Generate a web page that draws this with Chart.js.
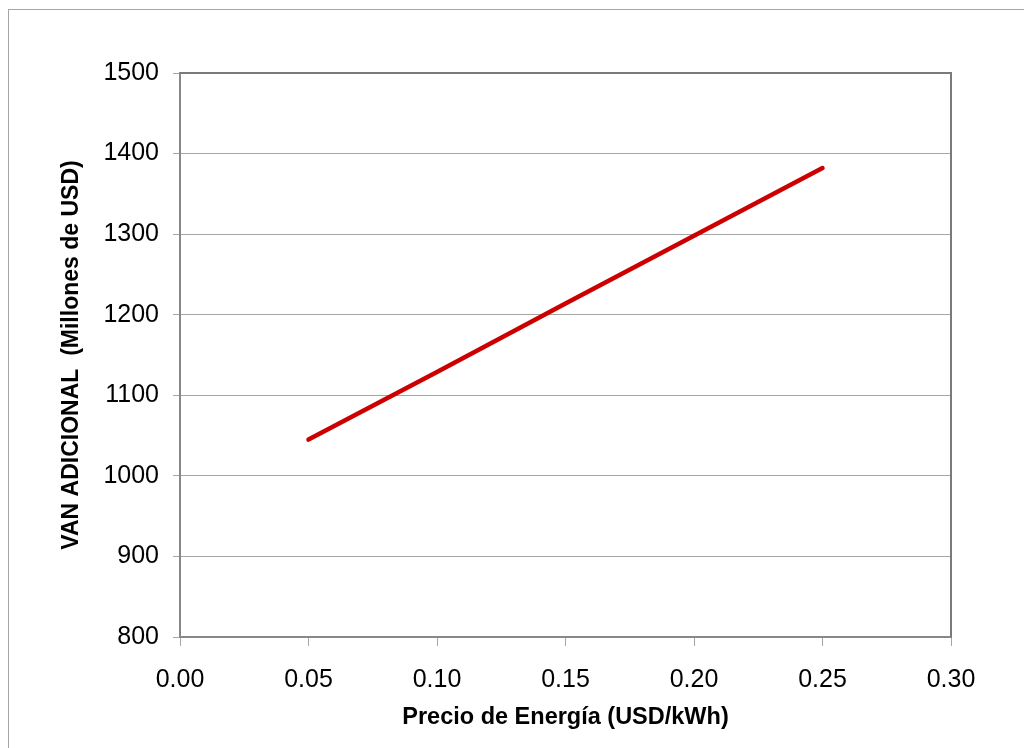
<!DOCTYPE html>
<html>
<head>
<meta charset="utf-8">
<script src="https://cdn.jsdelivr.net/npm/chart.js@4"></script>
<style>
  html, body { margin: 0; padding: 0; background: #ffffff; }
  #wrap { position: relative; width: 1024px; height: 748px; overflow: hidden; }
  #frame { position: absolute; left: 8px; top: 9px; width: 1100px; height: 800px;
           border-left: 1px solid #a6a6a6; border-top: 1px solid #a6a6a6; }
  canvas { position: absolute; left: 0; top: 0; }
</style>
</head>
<body>
<div id="wrap">
  <div id="frame"></div>
  <canvas id="c" width="1024" height="748"></canvas>
</div>
<script>
// Data
const priceValues = [0.05, 0.10, 0.15, 0.20, 0.25];       // USD/kWh
const vanValues   = [1045, 1129, 1214, 1298, 1382];        // Millones de USD
const xTitle = 'Precio de Energía (USD/kWh)';
const yTitle = 'VAN ADICIONAL  (Millones de USD)';
const xMin = 0, xMax = 0.30, xStep = 0.05;
const yMin = 800, yMax = 1500, yStep = 100;

const FONT = '"Liberation Sans", Arial, sans-serif';

const points = priceValues.map((x, i) => ({ x: x, y: vanValues[i] }));

const frameBorder = {
  id: 'frameBorder',
  afterDraw(chart) {
    const { ctx, chartArea: a } = chart;
    ctx.save();
    ctx.strokeStyle = '#7a7a7a';
    ctx.lineWidth = 2;
    ctx.beginPath();
    ctx.moveTo(a.left, a.top);
    ctx.lineTo(a.right, a.top);
    ctx.lineTo(a.right, a.bottom);
    ctx.stroke();
    ctx.restore();
  }
};

new Chart(document.getElementById('c'), {
  type: 'scatter',
  data: {
    datasets: [{
      data: points,
      showLine: true,
      borderColor: '#cc0000',
      borderWidth: 4.5,
      borderCapStyle: 'round',
      borderJoinStyle: 'round',
      pointRadius: 0,
      pointHoverRadius: 0,
      tension: 0
    }]
  },
  options: {
    responsive: false,
    animation: false,
    events: [],
    layout: { padding: { left: 0, top: 73, right: 73, bottom: 0 } },
    plugins: { legend: { display: false }, tooltip: { enabled: false } },
    scales: {
      x: {
        type: 'linear',
        min: xMin, max: xMax,
        afterFit(scale) { scale.height = 748 - 637; },
        ticks: {
          stepSize: xStep,
          callback: v => Number(v).toFixed(2),
          font: { family: FONT, size: 25 },
          color: '#000000',
          padding: 19,
          maxRotation: 0
        },
        grid: {
          drawOnChartArea: false,
          drawTicks: true,
          tickLength: 9,
          color: '#a6a6a6',
          lineWidth: 1
        },
        border: { color: '#888888', width: 2 },
        title: {
          display: true,
          text: xTitle,
          font: { family: FONT, size: 23.5, weight: 'bold' },
          color: '#000000',
          padding: { top: 0, bottom: 16 }
        }
      },
      y: {
        type: 'linear',
        min: yMin, max: yMax,
        afterFit(scale) { scale.width = 180; },
        ticks: {
          stepSize: yStep,
          callback: v => String(Math.round(v)),
          font: { family: FONT, size: 25 },
          color: '#000000',
          padding: 14
        },
        grid: {
          drawOnChartArea: true,
          drawTicks: true,
          tickLength: 7,
          color: '#a6a6a6',
          lineWidth: 1
        },
        border: { color: '#888888', width: 2 },
        title: {
          display: true,
          text: yTitle,
          font: { family: FONT, size: 23, weight: 'bold' },
          color: '#000000',
          padding: { top: 58, bottom: 0 }
        }
      }
    }
  },
  plugins: [frameBorder]
});
</script>
</body>
</html>
